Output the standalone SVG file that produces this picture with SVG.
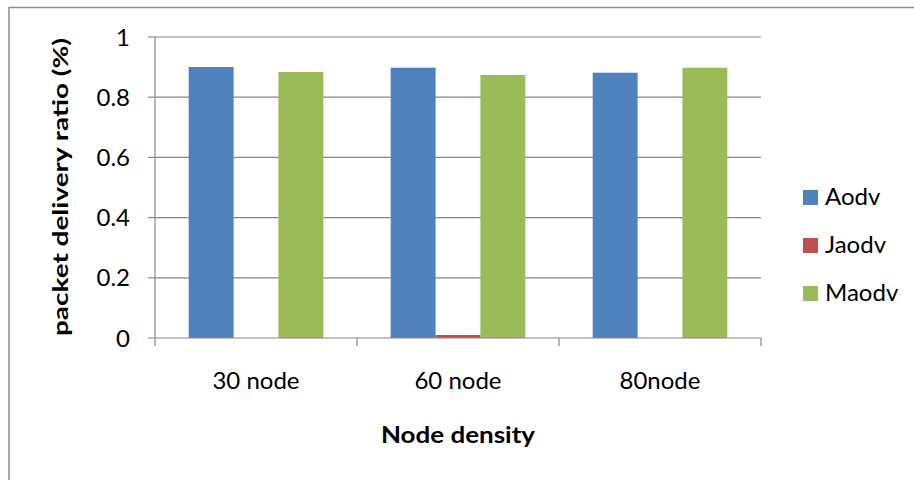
<svg xmlns="http://www.w3.org/2000/svg" width="914" height="480" viewBox="0 0 914 480">
<style>
.grid{stroke:#868686;stroke-width:1.2;fill:none}
.axis{stroke:#868686;stroke-width:1.2;fill:none}
.tick{font-family:Lato,"Liberation Sans",sans-serif;font-size:24px;fill:#000}
.title{font-family:Lato,"Liberation Sans",sans-serif;font-weight:bold;fill:#000}
.a{fill:#4F81BD}
.j{fill:#C0504D}
.m{fill:#9BBB59}
</style>
<rect x="0" y="0" width="914" height="480" fill="#fff"/>
<g id="frame"><path d="M9,480 V7.5 H914" stroke="#8c8c8c" stroke-width="1.5" fill="none"/></g>
<g id="gridlines">
<line class="grid" x1="155" y1="37" x2="761" y2="37"/>
<line class="grid" x1="155" y1="97.2" x2="761" y2="97.2"/>
<line class="grid" x1="155" y1="157.4" x2="761" y2="157.4"/>
<line class="grid" x1="155" y1="217.6" x2="761" y2="217.6"/>
<line class="grid" x1="155" y1="277.8" x2="761" y2="277.8"/>
</g>
<g id="bars">
<rect class="a" x="188.7" y="67" width="44.9" height="271"/>
<rect class="m" x="278.4" y="72" width="44.9" height="266"/>
<rect class="a" x="390.7" y="67.7" width="44.9" height="270.3"/>
<rect class="j" x="435.6" y="335" width="44.9" height="3"/>
<rect class="m" x="480.4" y="75" width="44.9" height="263"/>
<rect class="a" x="592.7" y="72.7" width="44.9" height="265.3"/>
<rect class="m" x="682.4" y="67.7" width="44.9" height="270.3"/>
</g>
<g id="axes">
<line class="axis" x1="155" y1="37" x2="155" y2="346"/>
<line class="axis" x1="148" y1="338" x2="761" y2="338"/>
<line class="axis" x1="148" y1="37" x2="155" y2="37"/>
<line class="axis" x1="148" y1="97.2" x2="155" y2="97.2"/>
<line class="axis" x1="148" y1="157.4" x2="155" y2="157.4"/>
<line class="axis" x1="148" y1="217.6" x2="155" y2="217.6"/>
<line class="axis" x1="148" y1="277.8" x2="155" y2="277.8"/>
<line class="axis" x1="357" y1="338" x2="357" y2="346"/>
<line class="axis" x1="559" y1="338" x2="559" y2="346"/>
<line class="axis" x1="761" y1="338" x2="761" y2="346"/>
</g>
<g id="y-labels" text-anchor="end">
<text class="tick" x="130" y="45.5">1</text>
<text class="tick" x="130" y="105.7">0.8</text>
<text class="tick" x="130" y="165.9">0.6</text>
<text class="tick" x="130" y="226.1">0.4</text>
<text class="tick" x="130" y="286.3">0.2</text>
<text class="tick" x="130" y="346.5">0</text>
</g>
<g id="x-labels" text-anchor="middle">
<text class="tick" x="256" y="389">30 node</text>
<text class="tick" x="458" y="389">60 node</text>
<text class="tick" x="660" y="389">80node</text>
</g>
<g id="axis-titles">
<text class="title" x="458" y="443" font-size="23" text-anchor="middle" textLength="154" lengthAdjust="spacingAndGlyphs">Node density</text>
<text class="title" transform="translate(68,187) rotate(-90)" x="0" y="0" font-size="20" text-anchor="middle" textLength="298" lengthAdjust="spacingAndGlyphs">packet delivery ratio (%)</text>
</g>
<g id="legend">
<rect class="a" x="803" y="190" width="15" height="15"/>
<text class="tick" x="825" y="205">Aodv</text>
<rect class="j" x="803" y="238" width="15" height="15"/>
<text class="tick" x="825" y="253">Jaodv</text>
<rect class="m" x="803" y="286" width="15" height="15"/>
<text class="tick" x="825" y="301">Maodv</text>
</g>
</svg>
